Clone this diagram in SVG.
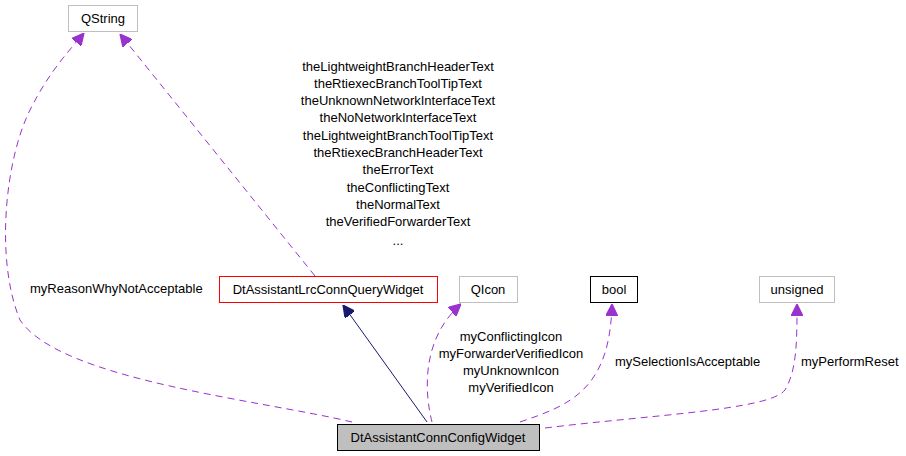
<svg xmlns="http://www.w3.org/2000/svg" width="906" height="456" viewBox="0 0 906 456">
<style>
text{font-family:"Liberation Sans",Arial,sans-serif;font-size:13px;fill:#000}
.n{fill:#fff;stroke-width:1}
.d{fill:none;stroke:#9a32cd;stroke-dasharray:7,5;stroke-width:1}
</style>
<defs>
<marker id="p" markerWidth="12" markerHeight="12" refX="10" refY="5" orient="auto" markerUnits="userSpaceOnUse" viewBox="0 0 10 10"><path d="M0,0L10,5L0,10z" fill="#9a32cd" stroke="#9a32cd"/></marker>
<marker id="b" markerWidth="12" markerHeight="12" refX="10" refY="5" orient="auto" markerUnits="userSpaceOnUse" viewBox="0 0 10 10"><path d="M0,0L10,5L0,10z" fill="#191970" stroke="#191970"/></marker>
</defs>
<rect width="906" height="456" fill="#fff"/>
<g id="connectors">
<path class="d" d="M352,422 C260,400 60,380 20,320 C-5,260 5,160 30,110 C50,70 70,50 84,33" marker-end="url(#p)"/>
<path class="d" d="M315,276 L120,34" marker-end="url(#p)"/>
<path d="M427,422 L343,305" stroke="#191970" fill="none" marker-end="url(#b)"/>
<path class="d" d="M432,422 C425,395 420,340 461,304" marker-end="url(#p)"/>
<path class="d" d="M520,422 C570,405 610,390 612,304" marker-end="url(#p)"/>
<path class="d" d="M545,428 C650,415 770,410 785,390 C797,370 797,340 797,304" marker-end="url(#p)"/>
</g>
<g id="labels">
<text x="30" y="293">myReasonWhyNotAcceptable</text>
<g text-anchor="middle">
<text x="398" y="71">theLightweightBranchHeaderText</text>
<text x="398" y="88">theRtiexecBranchToolTipText</text>
<text x="398" y="105">theUnknownNetworkInterfaceText</text>
<text x="398" y="122">theNoNetworkInterfaceText</text>
<text x="398" y="140">theLightweightBranchToolTipText</text>
<text x="398" y="157">theRtiexecBranchHeaderText</text>
<text x="398" y="174">theErrorText</text>
<text x="398" y="192">theConflictingText</text>
<text x="398" y="209">theNormalText</text>
<text x="398" y="226">theVerifiedForwarderText</text>
<text x="398" y="245">...</text>
<text x="511" y="341">myConflictingIcon</text>
<text x="511" y="358">myForwarderVerifiedIcon</text>
<text x="511" y="375">myUnknownIcon</text>
<text x="511" y="392">myVerifiedIcon</text>
</g>
<text x="615" y="366">mySelectionIsAcceptable</text>
<text x="801" y="366">myPerformReset</text>
</g>
<g id="QString"><rect class="n" x="68.5" y="5.5" width="69" height="26" stroke="#bfbfbf"/><text x="103" y="23" text-anchor="middle">QString</text></g>
<g id="DtAssistantLrcConnQueryWidget"><rect class="n" x="219.5" y="276.5" width="218" height="26" stroke="#ff0000"/><text x="328" y="294" text-anchor="middle">DtAssistantLrcConnQueryWidget</text></g>
<g id="QIcon"><rect class="n" x="459.5" y="276.5" width="58" height="26" stroke="#bfbfbf"/><text x="488" y="294" text-anchor="middle">QIcon</text></g>
<g id="bool"><rect class="n" x="590.5" y="276.5" width="47" height="26" stroke="#000"/><text x="614" y="294" text-anchor="middle">bool</text></g>
<g id="unsigned"><rect class="n" x="759.5" y="276.5" width="75" height="26" stroke="#bfbfbf"/><text x="797" y="294" text-anchor="middle">unsigned</text></g>
<g id="DtAssistantConnConfigWidget"><rect x="337.5" y="424.5" width="202" height="26" fill="#bfbfbf" stroke="#000"/><text x="438" y="442" text-anchor="middle">DtAssistantConnConfigWidget</text></g>
</svg>
